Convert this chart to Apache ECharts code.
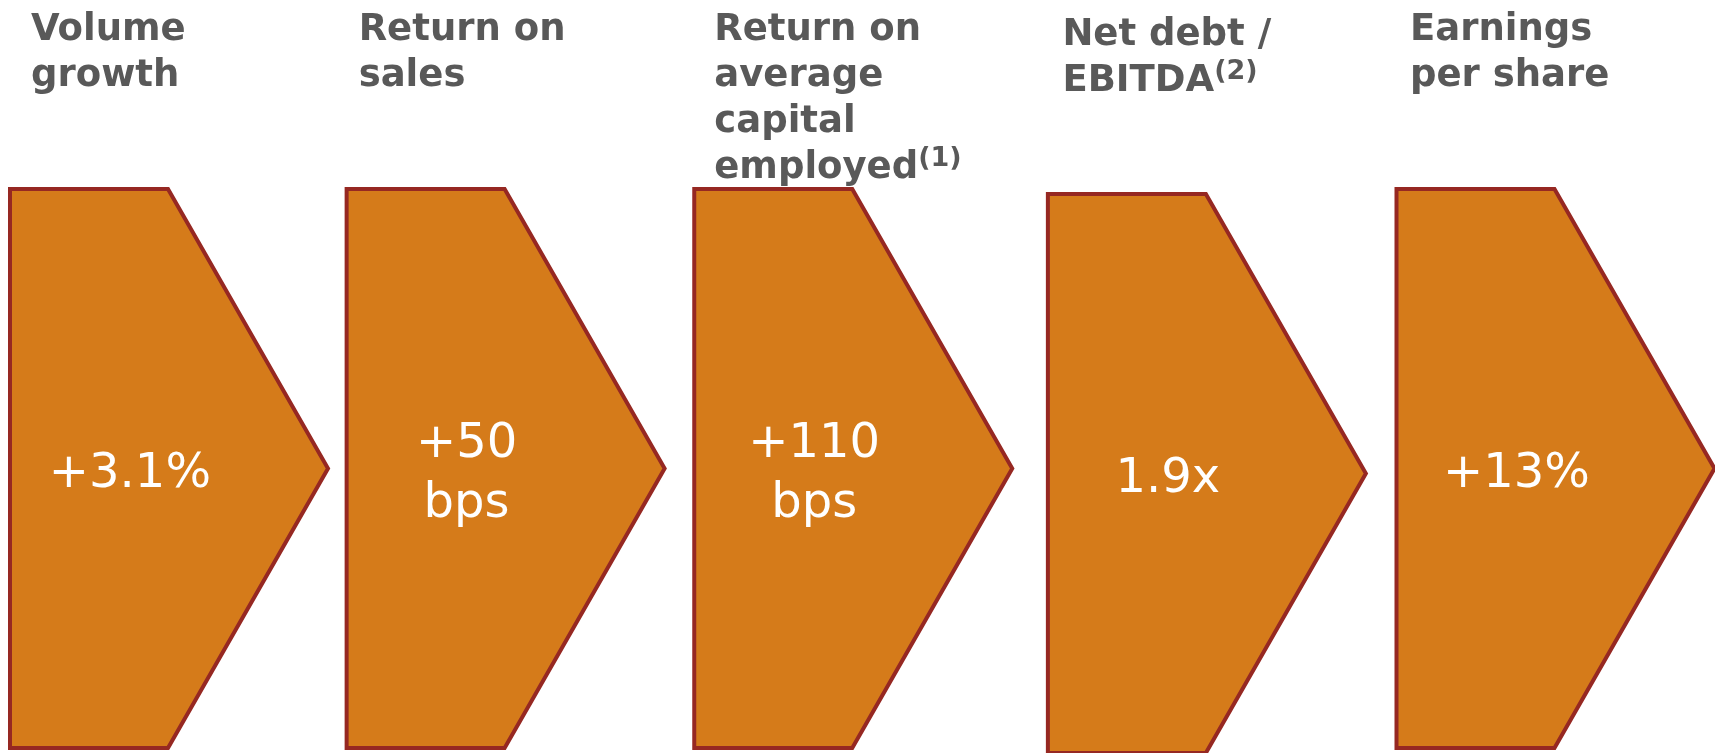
<!DOCTYPE html>
<html>
<head>
<meta charset="utf-8">
<script src="https://cdn.jsdelivr.net/npm/echarts@6/dist/echarts.min.js"></script>
<style>
  html, body { margin: 0; padding: 0; background: #ffffff; }
  #chart { width: 1715px; height: 753px; }
</style>
</head>
<body>
<div id="chart"></div>
<script>
// ---- data ----
const categories = ['Volume\ngrowth', 'Return on\nsales', 'Return on\naverage\ncapital\nemployed', 'Net debt /\nEBITDA', 'Earnings\nper share'];
const footnotes = ['', '', '(1)', '(2)', ''];
const values = ['+3.1%', '+50\nbps', '+110\nbps', '1.9x', '+13%'];

// ---- layout / style ----
const horizontalShift = [0, -10, -9, -2, 0];
const verticalShift = [0, 0, 0, 5, 0];
const titleIndent = [21, 12, 20, 14.5, 13.5];
const FILL = '#D57B1A';
const STROKE = '#962822';
const TITLE = '#595959';

const chart = echarts.init(document.getElementById('chart'), null, { renderer: 'canvas' });

function renderItem(params, api) {
  const i = params.dataIndex;
  const c = api.coord([i, 0.5]);
  const bw = api.size([1, 0])[0];
  const sh = verticalShift[i];
  const top = api.coord([i, 1])[1] + sh;
  const bot = api.coord([i, 0])[1] + sh;
  const mid = (top + bot) / 2;
  const half = bw * 0.4587;
  const cx = c[0] + horizontalShift[i];
  const left = cx - half;
  const tip = cx + half;
  const rr = left + bw * 0.4558;
  const lines = categories[i].split('\n');
  const last = lines.length - 1;
  const titleText = lines.map((l, k) => (k === last && footnotes[i]) ? l + '{sup|' + footnotes[i] + '}' : l).join('\n');
  return {
    type: 'group',
    children: [
      {
        type: 'polygon',
        shape: { points: [[left, top], [rr, top], [tip, mid], [rr, bot], [left, bot]] },
        style: { fill: FILL, stroke: STROKE, lineWidth: 4, lineJoin: 'miter' }
      },
      {
        type: 'text',
        x: left + bw * 0.346,
        y: mid + 6,
        style: {
          text: values[i],
          fill: '#ffffff',
          fontFamily: 'DejaVu Sans',
          fontSize: 48,
          lineHeight: 60,
          align: 'center',
          verticalAlign: 'middle'
        }
      },
      {
        type: 'text',
        x: left + titleIndent[i],
        y: 7 + sh,
        style: {
          text: titleText,
          fill: TITLE,
          fontFamily: 'DejaVu Sans',
          fontWeight: 'bold',
          fontSize: 37,
          lineHeight: 46,
          align: 'left',
          verticalAlign: 'top',
          rich: {
            sup: {
              fill: TITLE,
              fontFamily: 'DejaVu Sans',
              fontWeight: 'bold',
              fontSize: 27,
              lineHeight: 24,
              verticalAlign: 'top'
            }
          }
        }
      }
    ]
  };
}

chart.setOption({
  animation: false,
  backgroundColor: '#ffffff',
  grid: { left: 0, right: 0, top: 189, bottom: 5 },
  xAxis: { type: 'value', min: -0.48756, max: 4.46015, show: false },
  yAxis: { type: 'value', min: 0, max: 1, show: false },
  series: [{
    type: 'custom',
    renderItem: renderItem,
    clip: false,
    data: categories.map((c, i) => [i, 0.5])
  }]
});
</script>
</body>
</html>
